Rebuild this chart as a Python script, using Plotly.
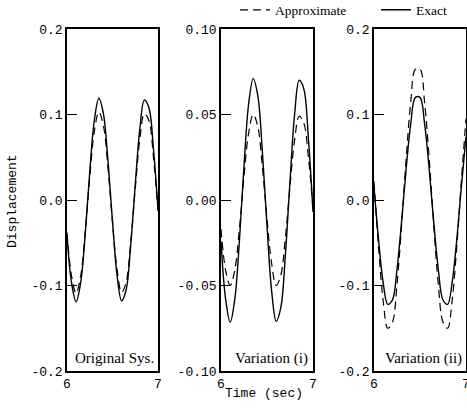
import plotly.graph_objects as go

# ---- data ----
time_s = [6.00, 6.05, 6.10, 6.15, 6.20, 6.25, 6.30, 6.35, 6.40, 6.45, 6.50,
          6.55, 6.60, 6.65, 6.70, 6.75, 6.80, 6.85, 6.90, 6.95, 7.00]

orig_exact = [-0.040, -0.097, -0.119, -0.097, -0.040, 0.033, 0.093, 0.119, 0.101, 0.046, -0.025,
              -0.088, -0.118, -0.105, -0.053, 0.018, 0.083, 0.117, 0.108, 0.060, -0.011]
orig_approx = [-0.038, -0.089, -0.109, -0.089, -0.038, 0.026, 0.080, 0.103, 0.087, 0.038, -0.026,
               -0.081, -0.108, -0.096, -0.050, 0.013, 0.071, 0.101, 0.093, 0.050, -0.013]

var1_exact = [-0.024, -0.058, -0.0715, -0.058, -0.024, 0.020, 0.056, 0.071, 0.061, 0.028, -0.015,
              -0.053, -0.071, -0.063, -0.032, 0.011, 0.050, 0.070, 0.065, 0.036, -0.007]
var1_approx = [-0.017, -0.041, -0.050, -0.041, -0.017, 0.014, 0.039, 0.050, 0.043, 0.019, -0.011,
               -0.037, -0.050, -0.044, -0.022, 0.008, 0.035, 0.049, 0.045, 0.025, -0.005]

var2_exact = [0.015, -0.047, -0.097, -0.122, -0.117, -0.081, -0.025, 0.037, 0.090, 0.120, 0.120,
              0.089, 0.036, -0.027, -0.082, -0.117, -0.122, -0.096, -0.046, 0.016, 0.074]
var2_approx = [0.022, -0.056, -0.118, -0.150, -0.143, -0.099, -0.029, 0.049, 0.115, 0.153, 0.153,
               0.114, 0.048, -0.030, -0.100, -0.143, -0.150, -0.117, -0.054, 0.023, 0.095]

panel_labels = ["Original Sys.", "Variation (i)", "Variation (ii)"]
series_names = ["Approximate", "Exact"]

y_tickvals_wide = [-0.2, -0.1, 0.0, 0.1, 0.2]
y_ticktext_wide = ["-0.2", "-0.1", "0.0", "0.1", "0.2"]
y_tickvals_narrow = [-0.10, -0.05, 0.0, 0.05, 0.10]
y_ticktext_narrow = ["-0.10", "-0.05", "0.00", "0.05", "0.10"]
x_tickvals = [6, 7]
x_ticktext = ["6", "7"]
x_label = "Time (sec)"
y_label = "Displacement"

# ---- figure ----
MONO = "Liberation Mono, Courier New, monospace"
SERIF = "Liberation Serif, Times New Roman, serif"

panels = [
    (orig_approx, orig_exact, "x", "y"),
    (var1_approx, var1_exact, "x2", "y2"),
    (var2_approx, var2_exact, "x3", "y3"),
]

fig = go.Figure()
for i, (appr, exact, xa, ya) in enumerate(panels):
    fig.add_trace(go.Scatter(
        x=time_s, y=appr, mode="lines", name=series_names[0],
        line=dict(color="black", width=1.2, dash="8px,5px", shape="spline"),
        xaxis=xa, yaxis=ya, showlegend=(i == 0), legendrank=1))
    fig.add_trace(go.Scatter(
        x=time_s, y=exact, mode="lines", name=series_names[1],
        line=dict(color="black", width=1.4, shape="spline"),
        xaxis=xa, yaxis=ya, showlegend=(i == 0), legendrank=2))

W, H = 467, 408
ML, MR, MT, MB = 67, 1, 29, 37
PW = W - ML - MR
PH = H - MT - MB

def px_dom(a, b):
    return [(a - ML) / PW, (b - ML) / PW]

domains = [px_dom(67, 158), px_dom(221, 313), px_dom(374, 466)]

common_x = dict(range=[6, 7], tickvals=x_tickvals, ticktext=x_ticktext, ticks="",
                showgrid=False, zeroline=False, showline=True, linecolor="black",
                linewidth=1.6, mirror=True, ticklabeloverflow="allow",
                tickfont=dict(family=MONO, size=13, color="black"))
common_y = dict(ticks="inside", ticklen=10, tickwidth=1.2, tickcolor="black",
                showgrid=False, zeroline=False, showline=True, linecolor="black",
                linewidth=1.6, mirror=True, ticklabeloverflow="allow",
                tickfont=dict(family=MONO, size=13, color="black"))

layout = dict(
    width=W, height=H,
    margin=dict(l=ML, r=MR, t=MT, b=MB, pad=0, autoexpand=False),
    paper_bgcolor="white", plot_bgcolor="white",
    showlegend=True,
    legend=dict(orientation="h", x=(235 - ML) / PW, xanchor="left",
                y=1 + (MT - 10) / PH, yanchor="middle",
                font=dict(family=SERIF, size=13.5, color="black"),
                bgcolor="rgba(0,0,0,0)", entrywidth=96, itemwidth=30,
                tracegroupgap=0, traceorder="normal"),
)
yranges = [[-0.2, 0.2], [-0.10, 0.10], [-0.2, 0.2]]
ytv = [(y_tickvals_wide, y_ticktext_wide), (y_tickvals_narrow, y_ticktext_narrow),
       (y_tickvals_wide, y_ticktext_wide)]
for i in range(3):
    xk = "xaxis" if i == 0 else f"xaxis{i+1}"
    yk = "yaxis" if i == 0 else f"yaxis{i+1}"
    xanchor = "y" if i == 0 else f"y{i+1}"
    yanchor = "x" if i == 0 else f"x{i+1}"
    layout[xk] = dict(common_x, domain=domains[i], anchor=xanchor)
    layout[yk] = dict(common_y, domain=[0, 1], anchor=yanchor, range=yranges[i],
                      tickvals=ytv[i][0], ticktext=ytv[i][1])
fig.update_layout(**layout)

# panel labels
label_x = [73, 233, 383]
for i, txt in enumerate(panel_labels):
    fig.add_annotation(text=txt, xref="paper", yref="paper",
                       x=(label_x[i] - ML) / PW, y=(H - MB - 358) / PH,
                       xanchor="left", yanchor="middle", showarrow=False,
                       font=dict(family=SERIF, size=15, color="black"))

# axis titles
fig.add_annotation(text=x_label, xref="paper", yref="paper",
                   x=(264 - ML) / PW, y=-(393 - (H - MB)) / PH,
                   xanchor="center", yanchor="middle", showarrow=False,
                   font=dict(family=MONO, size=13, color="black"))
fig.add_annotation(text=y_label, xref="paper", yref="paper",
                   x=-(ML - 12) / PW, y=(H - MB - 201) / PH, textangle=-90,
                   xanchor="center", yanchor="middle", showarrow=False,
                   font=dict(family=MONO, size=13, color="black"))

fig.write_html("out.html")
